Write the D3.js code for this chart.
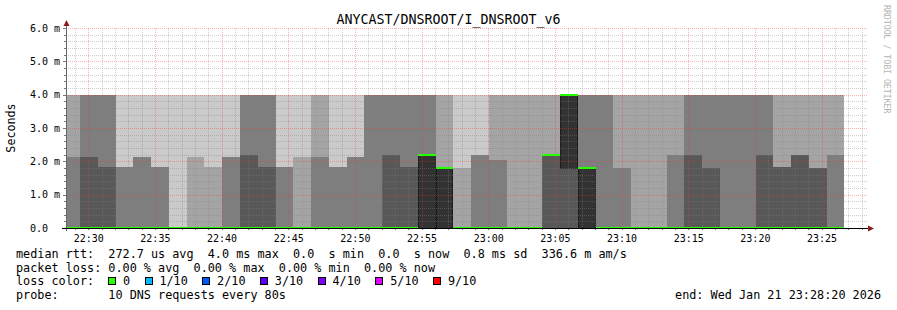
<!DOCTYPE html>
<html lang="en">
<head>
<meta charset="UTF-8" />
<title>ANYCAST/DNSROOT/I_DNSROOT_v6</title>
<script src="https://d3js.org/d3.v7.min.js"></script>
<style>
  body { margin: 0; padding: 0; background: #fff; }
  svg { display: block; font-family: "DejaVu Sans Mono", monospace; }
  .ticks .domain { display: none; }
  .grid-minor { stroke: rgba(128, 128, 128, 0.38); stroke-dasharray: 1, 1; }
  .grid-major { stroke: rgba(255, 50, 50, 0.38); stroke-dasharray: 1, 1; }
  .ticks line { stroke: #777; shape-rendering: crispEdges; }
  .smoke rect { shape-rendering: crispEdges; }
  .legend text { font-size: 11.8px; white-space: pre; fill: #000; }
</style>
</head>
<body>
<div id="chart"></div>
<script>
  const title = "ANYCAST/DNSROOT/I_DNSROOT_v6";
  const yLabel = "Seconds";
  const watermark = "RRDTOOL / TOBI OETIKER";

  // time window of the graph and 80 s probe bins
  const viewStart = "22:28:20";
  const viewEnd = "23:28:20";
  const firstBin = "22:28:03";
  const stepSec = 80;

  // 10 sorted rtt samples per bin, in ms
  const pings = [
    [0, 0, 0, 0, 0, 0, 0, 2.13, 4, 4],
    [0, 0, 0, 0, 0, 0, 2.13, 4, 4, 4],
    [0, 0, 0, 0, 0, 0, 1.83, 4, 4, 4],
    [0, 0, 0, 0, 0, 0, 0, 1.83, 1.83, 4],
    [0, 0, 0, 0, 0, 0, 0, 2.13, 2.13, 4],
    [0, 0, 0, 0, 0, 0, 0, 1.83, 1.83, 4],
    [0, 0, 0, 0, 0, 0, 0, 0, 0, 4],
    [0, 0, 0, 0, 0, 0, 0, 0, 2.13, 4],
    [0, 0, 0, 0, 0, 0, 0, 0, 1.83, 4],
    [0, 0, 0, 0, 0, 0, 0, 2.13, 2.13, 4],
    [0, 0, 0, 0, 0, 0, 2.19, 4, 4, 4],
    [0, 0, 0, 0, 0, 0, 1.83, 4, 4, 4],
    [0, 0, 0, 0, 0, 0, 0, 1.83, 1.83, 4],
    [0, 0, 0, 0, 0, 0, 0, 0, 2.13, 4],
    [0, 0, 0, 0, 0, 0, 0, 2.13, 4, 4],
    [0, 0, 0, 0, 0, 0, 0, 1.83, 1.83, 4],
    [0, 0, 0, 0, 0, 0, 0, 2.13, 2.13, 4],
    [0, 0, 0, 0, 0, 0, 0, 4, 4, 4],
    [0, 0, 0, 0, 0, 0, 2.19, 4, 4, 4],
    [0, 0, 0, 0, 0, 0, 1.83, 4, 4, 4],
    [0, 0, 0, 0, 0, 2.19, 2.19, 4, 4, 4],
    [0, 0, 0, 0, 0, 1.8, 1.8, 1.8, 4, 4],
    [0, 0, 0, 0, 0, 0, 0, 0, 1.8, 4],
    [0, 0, 0, 0, 0, 0, 0, 2.19, 2.19, 4],
    [0, 0, 0, 0, 0, 0, 0, 2.04, 4, 4],
    [0, 0, 0, 0, 0, 0, 0, 0, 4, 4],
    [0, 0, 0, 0, 0, 0, 0, 0, 4, 4],
    [0, 0, 0, 0, 2.19, 2.19, 2.19, 2.19, 4, 4],
    [0, 0, 0, 0, 1.77, 4, 4, 4, 4, 4],
    [0, 0, 0, 0, 0, 1.8, 1.8, 4, 4, 4],
    [0, 0, 0, 0, 0, 0, 0, 4, 4, 4],
    [0, 0, 0, 0, 0, 0, 0, 1.8, 4, 4],
    [0, 0, 0, 0, 0, 0, 0, 0, 4, 4],
    [0, 0, 0, 0, 0, 0, 0, 0, 4, 4],
    [0, 0, 0, 0, 0, 0, 0, 2.19, 4, 4],
    [0, 0, 0, 0, 0, 0, 2.19, 4, 4, 4],
    [0, 0, 0, 0, 0, 0, 1.8, 4, 4, 4],
    [0, 0, 0, 0, 0, 0, 0, 4, 4, 4],
    [0, 0, 0, 0, 0, 0, 0, 4, 4, 4],
    [0, 0, 0, 0, 0, 0, 2.19, 4, 4, 4],
    [0, 0, 0, 0, 0, 0, 1.83, 1.83, 4, 4],
    [0, 0, 0, 0, 0, 0, 2.19, 2.19, 4, 4],
    [0, 0, 0, 0, 0, 0, 1.8, 1.8, 4, 4],
    [0, 0, 0, 0, 0, 0, 0, 2.19, 4, 4],
  ];

  // lost pings per bin (out of 10)
  const loss = [
    0, 0, 0, 0, 0, 0, 0, 0, 0, 0, 0, 0, 0, 0, 0, 0, 0, 0, 0, 0, 0, 0,
    0, 0, 0, 0, 0, 0, 0, 0, 0, 0, 0, 0, 0, 0, 0, 0, 0, 0, 0, 0, 0, 0,
  ];

  const yTicks = [0, 1, 2, 3, 4, 5, 6];
  const yTickLabels = ["0.0", "1.0 m", "2.0 m", "3.0 m", "4.0 m", "5.0 m", "6.0 m"];

  const lossLabels = ["0", "1/10", "2/10", "3/10", "4/10", "5/10", "9/10"];
  const lossSteps = [0, 1, 2, 3, 4, 5, 9];
  const lossColors = ["#26ff00", "#00b8ff", "#0059ff", "#5e00ff", "#7e00ff", "#dd00ff", "#ff0000"];
  const smokeColors = ["#cacaca", "#a4a4a4", "#7e7e7e", "#585858", "#323232"];

  const legendLines = [
    "median rtt:  272.7 us avg  4.0 ms max  0.0  s min  0.0  s now  0.8 ms sd  336.6 m am/s",
    "packet loss: 0.00 % avg  0.00 % max  0.00 % min  0.00 % now",
    "loss color:",
    "probe:       10 DNS requests every 80s",
  ];
  const endLabel = "end: Wed Jan 21 23:28:20 2026";

  // ---- layout ----
  const W = 897, H = 310;
  const plot = { left: 66, right: 866, top: 28, bottom: 228 };

  const parseT = (s) => {
    const [h, m, sec] = s.split(":").map(Number);
    return new Date(2026, 0, 21, h, m, sec);
  };

  const x = d3.scaleTime()
    .domain([parseT(viewStart), parseT(viewEnd)])
    .range([plot.left, plot.right]);
  const y = d3.scaleLinear().domain([0, 6]).range([plot.bottom, plot.top]);

  const t0 = parseT(firstBin).getTime();
  const bins = pings.map((p, i) => ({
    start: new Date(t0 + i * stepSec * 1000),
    end: new Date(t0 + (i + 1) * stepSec * 1000),
    p: p.slice().sort(d3.ascending),
    loss: loss[i],
  }));

  const svg = d3.select("#chart").append("svg")
    .attr("width", W).attr("height", H);

  svg.append("rect").attr("width", W).attr("height", H).attr("fill", "#fff");

  svg.append("defs").append("clipPath").attr("id", "plot-clip")
    .append("rect")
    .attr("x", plot.left).attr("y", plot.top - 8)
    .attr("width", plot.right - plot.left).attr("height", plot.bottom - plot.top + 8);

  // ---- smoke: band i goes from ping i to ping (n-1-i), inner bands darker ----
  const smoke = svg.append("g").attr("class", "smoke").attr("clip-path", "url(#plot-clip)");
  smokeColors.forEach((col, i) => {
    smoke.append("g").selectAll("rect")
      .data(bins.filter((b) => b.p[b.p.length - 1 - i] > b.p[i]))
      .join("rect")
      .attr("x", (b) => x(b.start))
      .attr("width", (b) => x(b.end) - x(b.start))
      .attr("y", (b) => y(b.p[b.p.length - 1 - i]))
      .attr("height", (b) => y(b.p[i]) - y(b.p[b.p.length - 1 - i]))
      .attr("fill", col);
  });

  // dark edges around the innermost band
  const inner = bins.filter((b) => b.p[5] > b.p[4]);
  smoke.append("g").selectAll("path")
    .data(inner)
    .join("path")
    .attr("d", (b) => {
      const xa = Math.round(x(b.start)) + 0.5, xb = Math.round(x(b.end)) - 0.5;
      const ya = y(b.p[5]), yb = y(b.p[4]);
      return `M${xa},${ya}V${yb}M${xb},${ya}V${yb}`;
    })
    .attr("fill", "none")
    .attr("stroke", "#1a1a1a")
    .attr("stroke-width", 1);

  // ---- grid on top of the smoke ----
  const isMajorMin = (d) => d.getMinutes() % 5 === 0;
  const minuteTicks = x.ticks(d3.timeMinute.every(1));
  const yMinor = d3.range(1, 30).map((k) => k / 5).filter((v) => Math.abs(v - Math.round(v)) > 1e-6);
  const gx = (d) => Math.round(x(d)) + 0.5;
  const gy = (v) => Math.round(y(v)) + 0.5;

  const grid = svg.append("g").attr("fill", "none");
  grid.append("g").attr("class", "grid-minor").selectAll("line")
    .data(minuteTicks.filter((d) => !isMajorMin(d)))
    .join("line")
    .attr("x1", gx).attr("x2", gx)
    .attr("y1", plot.top).attr("y2", plot.bottom);
  grid.append("g").attr("class", "grid-minor").selectAll("line")
    .data(yMinor)
    .join("line")
    .attr("x1", plot.left).attr("x2", plot.right + 2)
    .attr("y1", gy).attr("y2", gy);
  grid.append("g").attr("class", "grid-major").selectAll("line")
    .data(minuteTicks.filter(isMajorMin))
    .join("line")
    .attr("x1", gx).attr("x2", gx)
    .attr("y1", plot.top).attr("y2", plot.bottom);
  grid.append("g").attr("class", "grid-major").selectAll("line")
    .data(yTicks.slice(1))
    .join("line")
    .attr("x1", plot.left).attr("x2", plot.right + 2)
    .attr("y1", gy).attr("y2", gy);

  // ---- median line, coloured by loss ----
  svg.append("g").attr("clip-path", "url(#plot-clip)")
    .selectAll("rect")
    .data(bins)
    .join("rect")
    .attr("x", (b) => x(b.start))
    .attr("width", (b) => x(b.end) - x(b.start))
    .attr("y", (b) => y(b.p[5]) - 1)
    .attr("height", 2)
    .attr("fill", (b) => lossColors[lossSteps.indexOf(b.loss)])
    .attr("shape-rendering", "crispEdges");

  // ---- axes ----
  svg.append("g").attr("class", "ticks")
    .attr("transform", `translate(0,${plot.bottom})`)
    .call(d3.axisBottom(x).tickValues(minuteTicks).tickSize(2).tickFormat(""));
  svg.append("g").attr("class", "ticks")
    .attr("transform", `translate(${plot.left},0)`)
    .call(d3.axisLeft(y).tickValues(yMinor).tickSize(2).tickFormat(""));
  svg.append("g").attr("class", "ticks")
    .attr("transform", `translate(${plot.left},0)`)
    .call(d3.axisLeft(y).tickValues(yTicks).tickSize(3).tickFormat(""));

  // axis lines and arrows
  svg.append("line")
    .attr("x1", plot.left + 0.5).attr("x2", plot.left + 0.5)
    .attr("y1", plot.bottom + 3).attr("y2", plot.top - 4)
    .attr("stroke", "#666");
  svg.append("line")
    .attr("x1", plot.left - 4).attr("x2", plot.right + 3)
    .attr("y1", plot.bottom + 0.5).attr("y2", plot.bottom + 0.5)
    .attr("stroke", "#000");
  svg.append("path")
    .attr("d", `M${plot.left + 0.5},${plot.top - 8}L${plot.left + 3.5},${plot.top - 2}L${plot.left - 2.5},${plot.top - 2}Z`)
    .attr("fill", "#8b1a1a");
  svg.append("path")
    .attr("d", `M${plot.right + 8},${plot.bottom + 0.5}L${plot.right + 2},${plot.bottom - 2.5}L${plot.right + 2},${plot.bottom + 3.5}Z`)
    .attr("fill", "#8b1a1a");

  // tick labels
  svg.append("g").selectAll("text")
    .data(x.ticks(d3.timeMinute.every(5)))
    .join("text")
    .attr("x", (d) => x(d) + 0.5)
    .attr("y", 242)
    .attr("text-anchor", "middle")
    .attr("font-size", "10px")
    .text(d3.timeFormat("%H:%M"));

  svg.append("g").selectAll("text")
    .data(yTicks)
    .join("text")
    .attr("x", 30)
    .attr("y", (d) => y(d))
    .attr("dy", "0.35em")
    .attr("font-size", "10px")
    .text((d, i) => yTickLabels[i]);

  // title, axis title, watermark
  svg.append("text")
    .attr("x", W / 2).attr("y", 23.5)
    .attr("text-anchor", "middle")
    .attr("font-size", "13.3px")
    .text(title);

  svg.append("text")
    .attr("transform", `translate(15,${(plot.top + plot.bottom) / 2}) rotate(-90)`)
    .attr("text-anchor", "middle")
    .attr("font-size", "11.7px")
    .text(yLabel);

  svg.append("text")
    .attr("transform", "translate(884,5) rotate(90)")
    .attr("font-size", "8.2px")
    .attr("fill", "#b4b4b4")
    .text(watermark);

  // ---- legend ----
  const legend = svg.append("g").attr("class", "legend");
  const rowY = [258, 271.5, 285, 298.5];
  legendLines.forEach((line, i) => {
    legend.append("text")
      .attr("x", 16).attr("y", rowY[i])
      .attr("xml:space", "preserve")
      .text(line);
  });

  const charW = 7.1;
  let cursor = 108.3;
  lossLabels.forEach((lab, i) => {
    legend.append("rect")
      .attr("x", Math.round(cursor) + 0.5).attr("y", 277.5)
      .attr("width", 7).attr("height", 7)
      .attr("fill", lossColors[i])
      .attr("stroke", "#000");
    const lx = cursor + 14.7;
    legend.append("text").attr("x", lx).attr("y", rowY[2]).text(lab);
    cursor = lx + lab.length * charW + 14.6;
  });

  legend.append("text")
    .attr("x", 881).attr("y", rowY[3])
    .attr("text-anchor", "end")
    .text(endLabel);
</script>
</body>
</html>
